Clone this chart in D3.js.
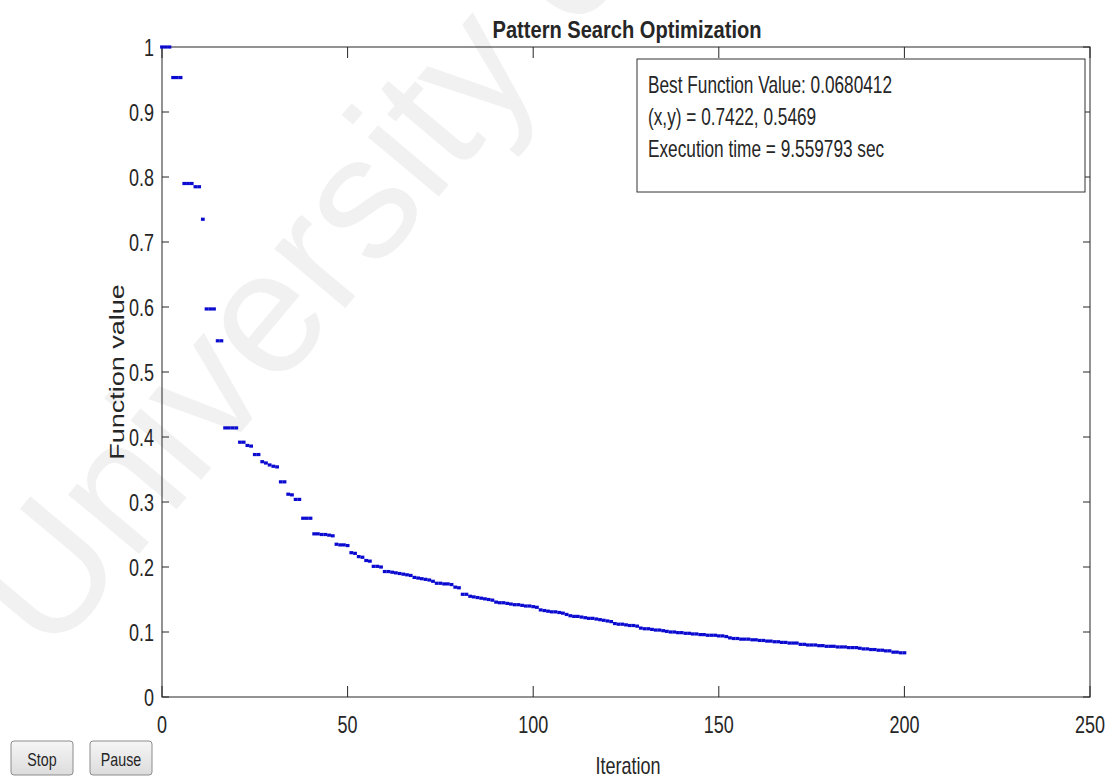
<!DOCTYPE html>
<html>
<head>
  <meta charset="utf-8">
  <title>Pattern Search Optimization</title>
  <script src="https://d3js.org/d3.v7.min.js"></script>
  <style>
    body { margin: 0; background: #fff; }
    text { font-family: "Liberation Sans", Arial, sans-serif; fill: #262626; }
  </style>
</head>
<body>
  <svg id="chart" width="1113" height="778"></svg>
  <script>
    // best function value at every iteration (0..200)
    const iterations = d3.range(0, 201);
    const bestValues = [
      1.000, 1.000, 1.000, 0.953, 0.953, 0.953, 0.790, 0.790, 0.790, 0.785,
      0.785, 0.735, 0.597, 0.597, 0.597, 0.548, 0.548, 0.414, 0.414, 0.414,
      0.414, 0.392, 0.392, 0.387, 0.386, 0.373, 0.373, 0.362, 0.360, 0.357,
      0.355, 0.354, 0.331, 0.331, 0.312, 0.311, 0.304, 0.304, 0.275, 0.275,
      0.275, 0.251, 0.251, 0.250, 0.250, 0.249, 0.248, 0.235, 0.234, 0.234,
      0.233, 0.222, 0.221, 0.216, 0.215, 0.210, 0.209, 0.201, 0.201, 0.200,
      0.193, 0.193, 0.192, 0.191, 0.190, 0.189, 0.188, 0.187, 0.184, 0.183,
      0.182, 0.181, 0.180, 0.178, 0.175, 0.175, 0.174, 0.174, 0.173, 0.169,
      0.168, 0.158, 0.158, 0.155, 0.154, 0.153, 0.152, 0.151, 0.150, 0.149,
      0.146, 0.145, 0.145, 0.144, 0.143, 0.142, 0.142, 0.141, 0.140, 0.140,
      0.139, 0.138, 0.134, 0.133, 0.132, 0.131, 0.131, 0.130, 0.129, 0.127,
      0.125, 0.124, 0.124, 0.123, 0.122, 0.121, 0.121, 0.120, 0.119, 0.118,
      0.117, 0.116, 0.113, 0.112, 0.112, 0.111, 0.110, 0.110, 0.109, 0.106,
      0.105, 0.105, 0.104, 0.103, 0.103, 0.102, 0.101, 0.100, 0.100, 0.099,
      0.099, 0.098, 0.098, 0.097, 0.097, 0.096, 0.096, 0.095, 0.095, 0.095,
      0.094, 0.094, 0.093, 0.091, 0.090, 0.090, 0.089, 0.089, 0.089, 0.088,
      0.088, 0.087, 0.087, 0.086, 0.086, 0.085, 0.085, 0.084, 0.084, 0.083,
      0.083, 0.083, 0.081, 0.081, 0.080, 0.080, 0.080, 0.079, 0.079, 0.078,
      0.078, 0.078, 0.077, 0.077, 0.077, 0.076, 0.076, 0.076, 0.075, 0.074,
      0.074, 0.073, 0.073, 0.072, 0.072, 0.071, 0.071, 0.069, 0.069, 0.068,
      0.068
    ];
    const xTicks = [0, 50, 100, 150, 200, 250];
    const yTicks = [0, 0.1, 0.2, 0.3, 0.4, 0.5, 0.6, 0.7, 0.8, 0.9, 1];
    const infoLines = [
      "Best Function Value: 0.0680412",
      "(x,y) = 0.7422, 0.5469",
      "Execution time = 9.559793 sec"
    ];
    const buttons = ["Stop", "Pause"];

    const svg = d3.select("#chart");
    const plotL = 162, plotR = 1090, plotT = 47, plotB = 697;
    const sx = 0.75; // the figure is squeezed horizontally

    const x = d3.scaleLinear().domain([0, 250]).range([plotL, plotR]);
    const y = d3.scaleLinear().domain([0, 1]).range([plotB, plotT]);

    // helper: horizontal text squeezed like in the picture
    function label(parent, str, px, py, size, anchor, weight) {
      return parent.append("text")
        .attr("transform", `translate(${px},${py}) scale(${sx},1)`)
        .attr("text-anchor", anchor || "start")
        .style("font-size", size + "px")
        .style("font-weight", weight || "normal")
        .text(str);
    }

    // faint watermark behind the figure
    svg.append("text")
      .attr("transform", "translate(50,660) rotate(-50)")
      .style("font-size", "175px")
      .style("fill", "#f1f1f1")
      .text("University of Malaya");

    // plot box
    svg.append("rect")
      .attr("x", plotL).attr("y", plotT)
      .attr("width", plotR - plotL).attr("height", plotB - plotT)
      .attr("fill", "none").attr("stroke", "#262626");

    const ticks = svg.append("g").attr("stroke", "#262626");
    xTicks.forEach(t => {
      ticks.append("line").attr("x1", x(t)).attr("x2", x(t)).attr("y1", plotB).attr("y2", plotB - 11);
      ticks.append("line").attr("x1", x(t)).attr("x2", x(t)).attr("y1", plotT).attr("y2", plotT + 11);
      label(svg, t, x(t), 733, 24, "middle");
    });
    yTicks.forEach(t => {
      ticks.append("line").attr("x1", plotL).attr("x2", plotL + 7).attr("y1", y(t)).attr("y2", y(t));
      ticks.append("line").attr("x1", plotR).attr("x2", plotR - 7).attr("y1", y(t)).attr("y2", y(t));
      label(svg, d3.format("~g")(t), 154, y(t) + 9, 24, "end");
    });

    // title and axis labels
    label(svg, "Pattern Search Optimization", 627, 38, 24, "middle", "bold")
      .attr("textLength", 269 / sx).attr("lengthAdjust", "spacingAndGlyphs");
    label(svg, "Iteration", 628, 774, 24, "middle");
    svg.append("text")
      .attr("transform", `translate(124,372) scale(${sx},1) rotate(-90)`)
      .attr("text-anchor", "middle")
      .style("font-size", "27px")
      .text("Function value");

    // data points
    svg.append("g").selectAll("rect")
      .data(iterations)
      .join("rect")
      .attr("x", i => x(i) - 1.9)
      .attr("y", i => y(bestValues[i]) - 1.6)
      .attr("width", 3.8)
      .attr("height", 3.2)
      .attr("fill", "#0a0ad0");

    // info box
    svg.append("rect")
      .attr("x", 637).attr("y", 59).attr("width", 448).attr("height", 133)
      .attr("fill", "#fff").attr("stroke", "#333");
    infoLines.forEach((s, k) => {
      label(svg, s, 648, 92.5 + k * 32.3, 23);
    });

    // Stop / Pause buttons
    const grad = svg.append("defs").append("linearGradient")
      .attr("id", "btn").attr("x1", 0).attr("x2", 0).attr("y1", 0).attr("y2", 1);
    grad.append("stop").attr("offset", "0%").attr("stop-color", "#f6f6f6");
    grad.append("stop").attr("offset", "100%").attr("stop-color", "#dcdcdc");
    buttons.forEach((b, k) => {
      const bx = 11 + k * 79;
      svg.append("rect")
        .attr("x", bx).attr("y", 741).attr("width", 62).attr("height", 34)
        .attr("rx", 3).attr("fill", "url(#btn)").attr("stroke", "#8c8c8c");
      label(svg, b, bx + 31, 766, 19, "middle");
    });
  </script>
</body>
</html>
